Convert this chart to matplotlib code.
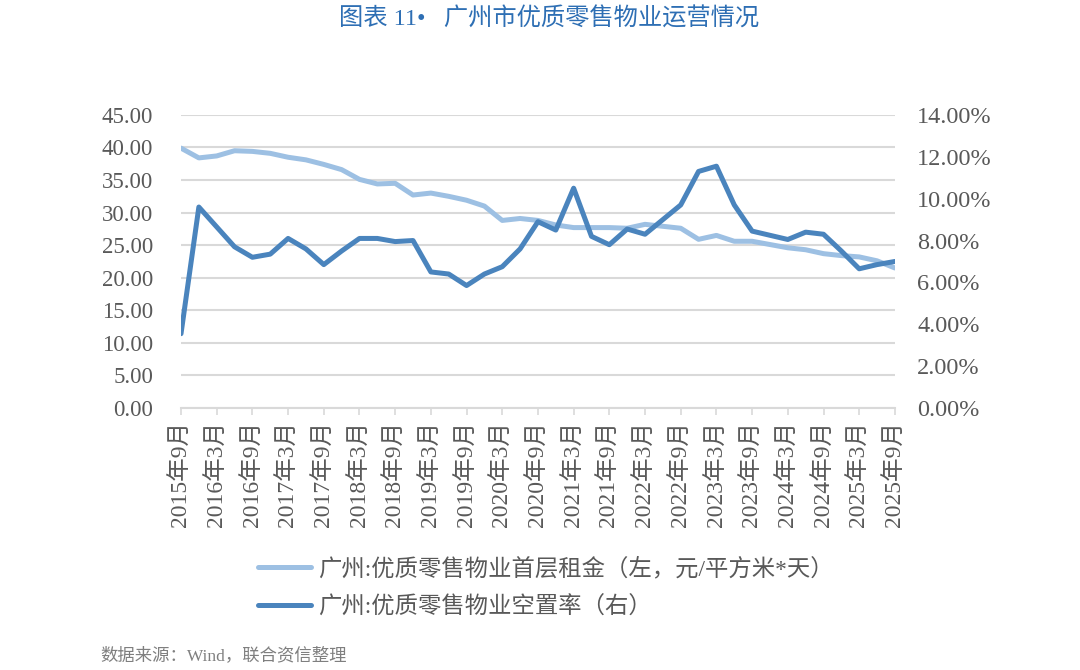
import matplotlib
matplotlib.use("Agg")
import matplotlib.pyplot as plt
from matplotlib.ticker import FuncFormatter, MultipleLocator

plt.rcParams['font.family'] = ['Liberation Serif', 'Noto Sans CJK SC', 'DejaVu Sans']

# quarterly, 2015年9月 .. 2025年9月
quarters = []
for yr in range(2015, 2026):
    for mo in (3, 6, 9, 12):
        if (yr, mo) >= (2015, 9) and (yr, mo) <= (2025, 9):
            quarters.append(f"{yr}年{mo}月")

# 首层租金 (元/平方米*天), left axis
rent = [39.9, 38.4, 38.7, 39.5, 39.4, 39.1, 38.5, 38.1, 37.4, 36.6,
        35.1, 34.4, 34.5, 32.7, 33.0, 32.5, 31.9, 31.0, 28.8, 29.1,
        28.8, 28.1, 27.7, 27.7, 27.7, 27.6, 28.2, 27.9, 27.6, 25.9,
        26.5, 25.6, 25.6, 25.1, 24.6, 24.3, 23.7, 23.4, 23.2, 22.6,
        21.5]

# 空置率, right axis
vacancy = [3.55, 9.6, 8.65, 7.7, 7.2, 7.35, 8.1, 7.6, 6.85, 7.5,
           8.1, 8.1, 7.95, 8.0, 6.5, 6.4, 5.85, 6.4, 6.75, 7.6,
           8.9, 8.5, 10.5, 8.2, 7.8, 8.55, 8.3, 9.0, 9.7, 11.3,
           11.55, 9.7, 8.45, 8.25, 8.05, 8.4, 8.3, 7.5, 6.65, 6.85,
           7.0]
vacancy = [v / 100 for v in vacancy]

LIGHT = "#9dc0e3"
DARK = "#4a84bd"
GRID = "#d9d9d9"
TXT = "#595959"

x = list(range(len(quarters)))

fig = plt.figure(figsize=(10.8, 6.7), dpi=100)
ax = fig.add_axes([0.1676, 0.391, 0.661, 0.4375])
ax2 = ax.twinx()

l1, = ax.plot(x, rent, color=LIGHT, lw=3.6, solid_capstyle='round', solid_joinstyle='round')
l2, = ax2.plot(x, vacancy, color=DARK, lw=3.6, solid_capstyle='round', solid_joinstyle='round')

ax.set_xlim(0, len(quarters) - 1)
ax.set_ylim(0, 45)
ax2.set_ylim(0, 0.14)
ax.yaxis.set_major_locator(MultipleLocator(5))
ax2.yaxis.set_major_locator(MultipleLocator(0.02))
ax.yaxis.set_major_formatter(FuncFormatter(lambda v, p: f"{v:.2f}"))
ax2.yaxis.set_major_formatter(FuncFormatter(lambda v, p: f"{v * 100:.2f}%"))

ax.grid(axis='y', color=GRID, lw=1.5)
ax.set_axisbelow(True)

ax.set_xticks(x[::2])
ax.set_xticklabels(quarters[::2], rotation=90, fontsize=17, color=TXT)
ax.tick_params(axis='x', length=5, color=GRID, width=1.2, pad=4)
ax2.tick_params(axis='x', bottom=False, top=False, labelbottom=False, labeltop=False)
ax.tick_params(axis='y', length=0, labelsize=16.5, labelcolor=TXT, pad=20)
ax2.tick_params(axis='y', length=0, labelsize=17.5, labelcolor=TXT, pad=16)

for a in (ax, ax2):
    for s in a.spines.values():
        s.set_visible(False)
ax.spines['bottom'].set_visible(True)
ax.spines['bottom'].set_color(GRID)
ax.spines['bottom'].set_linewidth(1.5)

fig.legend([l1, l2],
           ["广州:优质零售物业首层租金（左，元/平方米*天）", "广州:优质零售物业空置率（右）"],
           loc='upper left', bbox_to_anchor=(0.239, 0.168), frameon=False,
           fontsize=16.8, handlelength=2.25, handletextpad=0.3, labelspacing=0.68,
           borderpad=0, borderaxespad=0, labelcolor=TXT)

fig.text(0.508, 0.972, "图表 11•   广州市优质零售物业运营情况", ha='center', va='center',
         fontsize=17.5, color="#2e6fb4")
fig.text(0.093, 0.022, "数据来源：Wind，联合资信整理", ha='left', va='center',
         fontsize=12.5, color="#7f7f7f")

fig.savefig("out.png", dpi=100)
